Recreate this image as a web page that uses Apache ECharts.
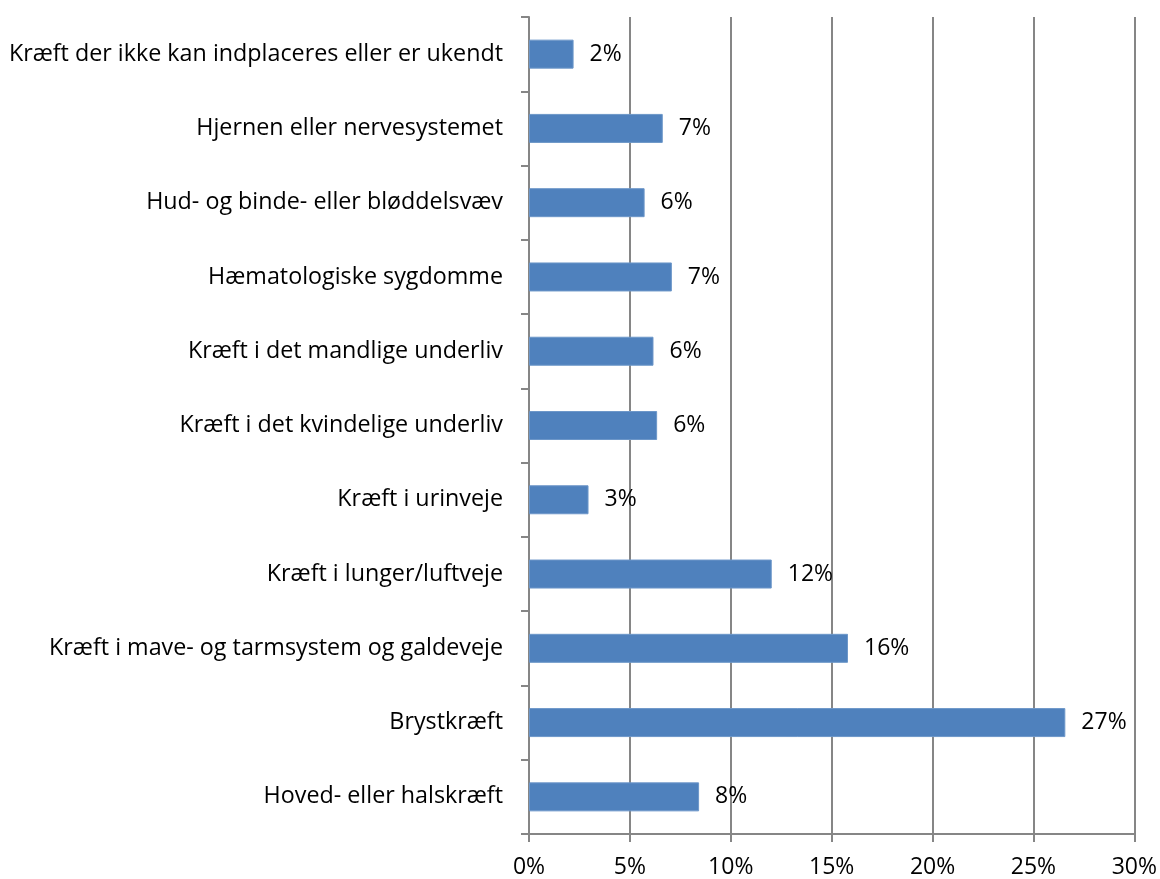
<!DOCTYPE html>
<html>
<head>
<meta charset="utf-8">
<script src="https://cdn.jsdelivr.net/npm/echarts@6/dist/echarts.min.js"></script>
<style>
	html,body{margin:0;padding:0;background:#fff;}
	#main{width:1160px;height:879px;}
</style>
</head>
<body>
<div id="main"></div>
<script>
	var categories = [
		'Kræft der ikke kan indplaceres eller er ukendt',
		'Hjernen eller nervesystemet',
		'Hud- og binde- eller bløddelsvæv',
		'Hæmatologiske sygdomme',
		'Kræft i det mandlige underliv',
		'Kræft i det kvindelige underliv',
		'Kræft i urinveje',
		'Kræft i lunger/luftveje',
		'Kræft i mave- og tarmsystem og galdeveje',
		'Brystkræft',
		'Hoved- eller halskræft'
	];
	var shares = [2.21, 6.63, 5.73, 7.08, 6.17, 6.35, 2.95, 12.03, 15.81, 26.58, 8.43];
	var xTicks = [0, 5, 10, 15, 20, 25, 30];

	var font = 'Open Sans';
	var gray = '#868686';

	var myChart = echarts.init(document.getElementById('main'));
	myChart.setOption({
		animation: false,
		grid: {left: 529, right: 25, top: 17, bottom: 45},
		xAxis: {
			type: 'value',
			min: xTicks[0],
			max: xTicks[xTicks.length - 1],
			interval: 5,
			axisLine: {show: true, lineStyle: {color: gray, width: 2}},
			axisTick: {show: true, length: 8, lineStyle: {color: gray, width: 2}},
			splitLine: {show: true, lineStyle: {color: gray, width: 2}},
			axisLabel: {
				margin: 22,
				color: '#000',
				fontFamily: font,
				fontSize: 23,
				formatter: function(v) { return v + '%'; }
			}
		},
		yAxis: {
			type: 'category',
			inverse: true,
			data: categories,
			axisLine: {show: true, lineStyle: {color: gray, width: 2}},
			axisTick: {show: true, length: 8, inside: false, lineStyle: {color: gray, width: 2}},
			splitLine: {show: false},
			axisLabel: {
				margin: 26,
				color: '#000',
				fontFamily: font,
				fontSize: 23.3
			}
		},
		series: [{
			type: 'bar',
			data: shares,
			barWidth: 29,
			itemStyle: {color: '#4F81BD', borderColor: '#6d97c9', borderWidth: 1},
			label: {
				show: true,
				position: 'right',
				distance: 16,
				color: '#000',
				fontFamily: font,
				fontSize: 23,
				formatter: function(p) { return Math.round(p.value) + '%'; }
			}
		}]
	});
</script>
</body>
</html>
